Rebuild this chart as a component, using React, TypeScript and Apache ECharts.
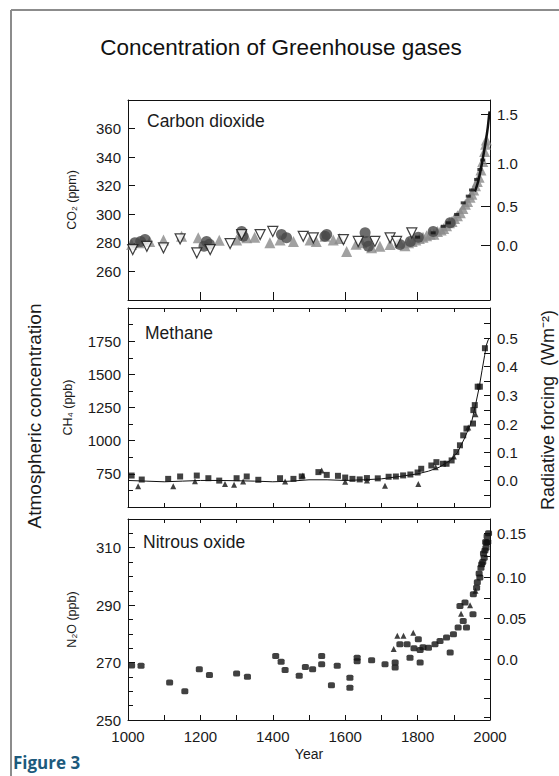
import React, { useEffect, useRef } from 'react';
import * as echarts from 'echarts';

// ---------- axis constants ----------
const YEAR_MIN = 1000;
const YEAR_MAX = 2000;
const YEAR_LABELS = [1000, 1200, 1400, 1600, 1800, 2000];

const CO2_MIN = 240, CO2_MAX = 380, CO2_STEP = 20;
const CH4_MIN = 500, CH4_MAX = 2000, CH4_STEP = 250;
const N2O_MIN = 250, N2O_MAX = 320, N2O_STEP = 20;

// radiative forcing scales (label, position in concentration units)
const CO2_RF_LABELS = ['0.0', '0.5', '1.0', '1.5'];
const CO2_RF_PPM = [278.1, 305.7, 335.6, 370];
const CH4_RF_LABELS = ['0.0', '0.1', '0.2', '0.3', '0.4', '0.5'];
const CH4_RF_PPB = [699, 909, 1121, 1343, 1558, 1773];
const CH4_RF_TICKS = [586, 699, 804, 909, 1015, 1121, 1232, 1343, 1450, 1558, 1660, 1773, 1886];
const N2O_RF_LABELS = ['0.0', '0.05', '0.10', '0.15'];
const N2O_RF_PPB = [271.2, 285.3, 299.6, 314.9];
const N2O_RF_TICKS = [251, 257.6, 264.3, 271.2, 278.2, 285.3, 292.4, 299.6, 307.2, 314.9];

// ---------- data: carbon dioxide (year, ppm) ----------
const co2GrayTriangles: number[][] = [
  [1010, 278.8], [1030, 280], [1060, 281], [1098, 282], [1148, 284.6], [1194, 283.5],
  [1252, 281.8], [1300, 282], [1328, 283.5], [1350, 284], [1392, 280], [1420, 282],
  [1457, 281], [1503, 282], [1520, 281], [1544, 284.6], [1567, 282], [1585, 283],
  [1604, 274], [1630, 279], [1646, 280], [1673, 276.5], [1696, 277.6], [1724, 278.8],
  [1751, 280], [1765, 278], [1775, 280], [1785, 281], [1795, 282], [1805, 283],
  [1815, 284], [1825, 285], [1835, 286], [1845, 286], [1855, 288], [1865, 289],
  [1872, 290], [1880, 292], [1888, 294], [1895, 295], [1902, 297], [1910, 299],
  [1918, 301], [1925, 304], [1932, 307], [1938, 309], [1945, 312], [1950, 314],
  [1955, 317], [1960, 320], [1965, 323], [1970, 326], [1975, 331], [1980, 337],
  [1985, 344], [1988, 349], [1990, 352]
];
const co2DarkCircles: number[][] = [
  [1019, 280], [1035, 281], [1047, 282.3], [1210, 277.6], [1217, 281], [1225, 279],
  [1314, 288], [1318, 284.6], [1424, 285.8], [1438, 283.5], [1544, 284.6], [1549, 285.8],
  [1655, 287], [1659, 281], [1664, 277.6], [1751, 278.8], [1780, 281], [1802, 284],
  [1843, 288], [1890, 294]
];
const co2OpenTriangles: number[][] = [
  [1013, 275.3], [1052, 277.6], [1098, 276.5], [1144, 282.8], [1190, 273], [1227, 275.3],
  [1282, 279.5], [1314, 285.8], [1365, 285.8], [1400, 288], [1484, 284.6], [1512, 283.5],
  [1595, 282.3], [1636, 281], [1682, 281], [1724, 283.5], [1742, 281], [1784, 287]
];
const co2BlackDashes: number[][] = [
  [1800, 284], [1843, 287], [1871, 291.6], [1885, 294], [1908, 299.9], [1926, 308],
  [1940, 312.7], [1949, 317], [1963, 324.4], [1972, 331.4], [1980, 338]
];
const co2Line: number[][] = [
  [1958, 316], [1965, 321], [1970, 326], [1975, 332], [1980, 339], [1985, 346],
  [1990, 354], [1994, 361], [1997, 368], [1999, 372]
];

// ---------- data: methane (year, ppb) ----------
const ch4Line: number[][] = [
  [1000, 700], [1050, 695], [1100, 690], [1150, 695], [1200, 700], [1250, 700],
  [1300, 698], [1350, 695], [1400, 690], [1450, 695], [1500, 705], [1550, 705],
  [1600, 700], [1650, 705], [1700, 712], [1750, 730], [1800, 750], [1830, 770],
  [1860, 800], [1890, 850], [1910, 910], [1930, 1020], [1950, 1150], [1960, 1270],
  [1970, 1400], [1978, 1530], [1985, 1640], [1990, 1720], [1995, 1760], [1998, 1770]
];
const ch4Squares: number[][] = [
  [1010, 737], [1038, 707], [1111, 712], [1144, 730], [1190, 737], [1222, 717],
  [1252, 699], [1300, 717], [1328, 730], [1360, 705], [1420, 717], [1457, 712],
  [1480, 730], [1526, 763], [1549, 742], [1580, 735], [1600, 722], [1620, 712],
  [1640, 708], [1660, 718], [1690, 716], [1720, 728], [1740, 730], [1760, 738],
  [1780, 745], [1800, 760], [1810, 788], [1838, 813], [1852, 838], [1870, 826],
  [1880, 826], [1894, 851], [1907, 914], [1917, 965], [1926, 1040], [1935, 1091],
  [1953, 1129], [1954, 1230], [1958, 1268], [1966, 1407], [1972, 1407], [1986, 1697]
];
const ch4Triangles: number[][] = [
  [1028, 657], [1125, 657], [1185, 695], [1268, 674], [1293, 667], [1318, 692],
  [1434, 692], [1483, 737], [1535, 775], [1600, 690], [1660, 700], [1710, 661],
  [1802, 674], [1850, 800], [1900, 880], [1940, 1100], [1960, 1200]
];

// ---------- data: nitrous oxide (year, ppb) ----------
const n2oDots: number[][] = [
  [1010, 269], [1036, 268.9], [1115, 263.1], [1157, 260], [1197, 267.7], [1225, 265.7],
  [1300, 266.2], [1330, 265.1], [1408, 272.3], [1423, 270.3], [1434, 267.4], [1473, 265.4],
  [1490, 268.5], [1510, 267.7], [1535, 272.3], [1535, 269.4], [1562, 262.1], [1578, 268.9],
  [1613, 264.7], [1613, 261.2], [1633, 271.7], [1633, 270.5], [1673, 270.8], [1710, 269.4],
  [1738, 268.3], [1738, 270], [1751, 276.4], [1771, 276.4], [1779, 271.7], [1790, 275],
  [1802, 278.1], [1807, 270], [1807, 274.4], [1815, 275.3], [1830, 275.2], [1848, 276.4],
  [1862, 277.5], [1880, 278.7], [1890, 273.5], [1899, 279.9], [1912, 282.2], [1917, 289.7],
  [1926, 284.5], [1931, 290.9], [1935, 282.2], [1953, 286.8], [1954, 293.8], [1963, 296.1],
  [1965, 298], [1970, 301], [1972, 299.6], [1975, 303], [1977, 304.2], [1980, 305],
  [1982, 308], [1984, 306.5], [1986, 309], [1988, 312], [1989, 310], [1991, 311.7],
  [1992, 314], [1994, 312], [1996, 315]
];
const n2oTriangles: number[][] = [
  [1734, 274.7], [1744, 279.3], [1761, 279.3], [1788, 280.4], [1920, 287], [1945, 290], [1960, 295]
];

const FONT = "'Liberation Sans', Arial, Helvetica, sans-serif";
const TXT = '#1a1a1a';

function lookupLabel(values: number[], labels: string[]) {
  return (v: number) => {
    const i = values.findIndex((p) => Math.abs(p - v) < 1e-6);
    return i >= 0 ? labels[i] : '';
  };
}

const GRIDS = [
  { left: 128, top: 100, width: 362, height: 200 },
  { left: 128, top: 308, width: 362, height: 199 },
  { left: 128, top: 519, width: 362, height: 201 }
];

function xAxisDef(grid: number, position: 'top' | 'bottom', interval: number, tickLen: number, showTicks: boolean, extra: any = {}) {
  return {
    type: 'value', gridIndex: grid, position, min: YEAR_MIN, max: YEAR_MAX, interval,
    axisLine: { show: true, lineStyle: { color: '#111', width: 1 } },
    axisTick: { show: showTicks, inside: true, length: tickLen, lineStyle: { color: '#111' } },
    axisLabel: { show: false },
    splitLine: { show: false },
    ...extra
  };
}

export default function App() {
  const ref = useRef<HTMLDivElement>(null);
  useEffect(() => {
    if (!ref.current) return;
    const chart = echarts.init(ref.current, null, { renderer: 'svg' });

    const labelStyle = { color: TXT, fontFamily: FONT, fontSize: 15 };
    const leftY = (grid: number, min: number, max: number, step: number, hide: number[], name: string, nameGap: number, minorSplit: number) => ({
      type: 'value', gridIndex: grid, position: 'left', min, max, interval: step,
      axisLine: { show: true, lineStyle: { color: '#111', width: 1 } },
      axisTick: { show: true, inside: true, length: 7, lineStyle: { color: '#111' } },
      minorTick: { show: minorSplit > 0, splitNumber: minorSplit || 5, length: 5, lineStyle: { color: '#111' } },
      axisLabel: { ...labelStyle, margin: 7, formatter: (v: number) => (hide.includes(v) ? '' : String(v)) },
      splitLine: { show: false },
      minorSplitLine: { show: false },
      name, nameLocation: 'middle', nameGap, nameRotate: 90,
      nameTextStyle: { color: TXT, fontFamily: FONT, fontSize: 12.5 }
    });
    const rightY = (grid: number, min: number, max: number, labelVals: number[], labels: string[], tickVals: number[], tickLen: number) => ({
      type: 'value', gridIndex: grid, position: 'right', min, max,
      axisLine: { show: true, lineStyle: { color: '#111', width: 1 } },
      axisTick: { show: true, inside: true, length: tickLen, customValues: tickVals, lineStyle: { color: '#111' } },
      axisLabel: { ...labelStyle, margin: 7, customValues: labelVals, formatter: lookupLabel(labelVals, labels) },
      splitLine: { show: false }
    });

    const scatter = (name: string, data: number[][], axis: number, symbol: string, size: any, color: string, extra: any = {}) => ({
      name, type: 'scatter', xAxisIndex: axis * 2, yAxisIndex: axis * 2, data, symbol, symbolSize: size,
      itemStyle: { color, ...(extra.itemStyle || {}) }, symbolRotate: extra.rotate || 0, z: extra.z || 2, silent: true
    });

    const option: any = {
      animation: false,
      backgroundColor: '#ffffff',
      grid: GRIDS.map((g) => ({ ...g, show: false, containLabel: false, outerBoundsMode: 'none' })),
      xAxis: [
        xAxisDef(0, 'bottom', 200, 8, true),
        xAxisDef(0, 'top', 200, 8, false),
        xAxisDef(1, 'bottom', 100, 4, true),
        xAxisDef(1, 'top', 100, 4, true),
        xAxisDef(2, 'bottom', 200, 5, true, {
          minorTick: { show: true, splitNumber: 2, length: 5, lineStyle: { color: '#111' } },
          minorSplitLine: { show: false },
          axisLabel: { ...labelStyle, margin: 9, formatter: (v: number) => (YEAR_LABELS.includes(v) ? String(v) : '') },
          name: 'Year', nameLocation: 'middle', nameGap: 27,
          nameTextStyle: { color: TXT, fontFamily: FONT, fontSize: 14 }
        }),
        xAxisDef(2, 'top', 100, 4, true)
      ],
      yAxis: [
        leftY(0, CO2_MIN, CO2_MAX, CO2_STEP, [CO2_MIN, CO2_MAX], 'CO\u2082 (ppm)', 50, 0),
        rightY(0, CO2_MIN, CO2_MAX, CO2_RF_PPM, CO2_RF_LABELS, CO2_RF_PPM, 9),
        leftY(1, CH4_MIN, CH4_MAX, CH4_STEP, [CH4_MIN, CH4_MAX], 'CH\u2084 (ppb)', 54, 2),
        rightY(1, CH4_MIN, CH4_MAX, CH4_RF_PPB, CH4_RF_LABELS, CH4_RF_TICKS, 6),
        leftY(2, N2O_MIN, N2O_MAX, N2O_STEP, [N2O_MAX], 'N\u2082O (ppb)', 50, 4),
        rightY(2, N2O_MIN, N2O_MAX, N2O_RF_PPB, N2O_RF_LABELS, N2O_RF_TICKS, 6)
      ],
      series: [
        // CO2
        scatter('CO2 gray', co2GrayTriangles, 0, 'triangle', 11, '#8a8a8a'),
        scatter('CO2 dark', co2DarkCircles, 0, 'circle', 11, '#474747', { z: 3 }),
        scatter('CO2 open', co2OpenTriangles, 0, 'triangle', 10, '#ffffff', { rotate: 180, z: 4, itemStyle: { borderColor: '#111', borderWidth: 1.2 } }),
        scatter('CO2 black', co2BlackDashes, 0, 'rect', [5, 3], '#111', { z: 5 }),
        {
          name: 'CO2 line', type: 'line', xAxisIndex: 0, yAxisIndex: 0, data: co2Line, symbol: 'none',
          smooth: true, lineStyle: { color: '#111', width: 2.5 }, z: 6, silent: true
        },
        // CH4
        {
          name: 'CH4 line', type: 'line', xAxisIndex: 2, yAxisIndex: 2, data: ch4Line, symbol: 'none',
          lineStyle: { color: '#111', width: 1 }, z: 2, silent: true
        },
        scatter('CH4 squares', ch4Squares, 1, 'rect', 6, '#111', { z: 3 }),
        scatter('CH4 triangles', ch4Triangles, 1, 'triangle', 6, '#111', { z: 3 }),
        // N2O
        scatter('N2O dots', n2oDots, 2, 'roundRect', [7, 6], '#111'),
        scatter('N2O triangles', n2oTriangles, 2, 'triangle', 6, '#111')
      ],
      graphic: [
        { type: 'line', shape: { x1: 11, y1: 10, x2: 11, y2: 776 }, style: { stroke: '#8c8c8c', lineWidth: 2 } },
        { type: 'line', shape: { x1: 11, y1: 10, x2: 559, y2: 10 }, style: { stroke: '#8c8c8c', lineWidth: 2 } },
        { type: 'text', x: 281, y: 47, style: { text: 'Concentration of Greenhouse gases', fill: '#111', font: `22.5px ${FONT}`, align: 'center', verticalAlign: 'middle' } },
        { type: 'text', x: 147, y: 121, style: { text: 'Carbon dioxide', fill: TXT, font: `17.5px ${FONT}`, align: 'left', verticalAlign: 'middle' } },
        { type: 'text', x: 145, y: 333, style: { text: 'Methane', fill: TXT, font: `17.5px ${FONT}`, align: 'left', verticalAlign: 'middle' } },
        { type: 'text', x: 143, y: 542, style: { text: 'Nitrous oxide', fill: TXT, font: `17.5px ${FONT}`, align: 'left', verticalAlign: 'middle' } },
        { type: 'text', x: 34, y: 416, rotation: Math.PI / 2, style: { text: 'Atmospheric concentration', fill: TXT, font: `19px ${FONT}`, align: 'center', verticalAlign: 'middle' } },
        { type: 'text', x: 548, y: 410, rotation: Math.PI / 2, style: { text: 'Radiative forcing  (Wm\u207B\u00B2)', fill: TXT, font: `18px ${FONT}`, align: 'center', verticalAlign: 'middle' } },
        { type: 'text', x: 13, y: 762, style: { text: 'Figure 3', fill: '#1d5a7c', font: `bold 17px 'Open Sans', 'Noto Sans', sans-serif`, align: 'left', verticalAlign: 'middle' } }
      ]
    };
    chart.setOption(option);
    return () => chart.dispose();
  }, []);
  return <div ref={ref} style={{ position: 'fixed', left: 0, top: 0, width: 559, height: 776 }} />;
}
